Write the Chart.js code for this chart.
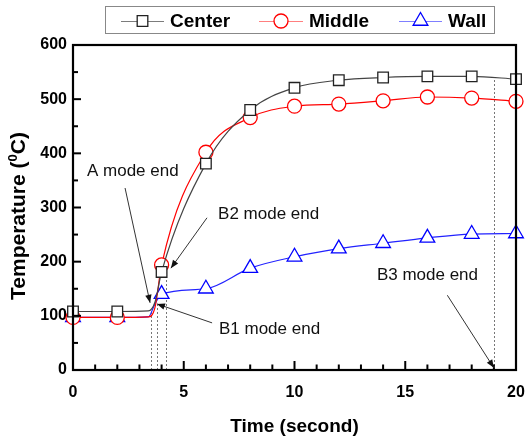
<!DOCTYPE html>
<html><head><meta charset="utf-8">
<script src="https://cdn.jsdelivr.net/npm/chart.js@4.4.1/dist/chart.umd.min.js"></script>
<style>html,body{margin:0;padding:0;background:#fff}#wrap{width:530px;height:440px;position:relative}</style>
</head><body><div id="wrap"><canvas id="c"></canvas></div>
<script>
// ---- data ----
const seriesNames = ['Center', 'Middle', 'Wall'];
const times       = [0, 2, 3.4, 3.7, 4, 6, 8, 10, 12, 14, 16, 18, 20];
const centerTemps = [108, 108, 109, 125, 181, 381, 480, 521, 535, 540, 542, 542, 537];
const middleTemps = [97, 97, 98, 115, 194, 402, 466, 487, 491, 497, 504, 502, 496];
const wallTemps   = [97, 97, 98, 122, 140, 150, 188, 209, 224, 234, 244, 251, 252];
const markerTimes = [0, 2, 4, 6, 8, 10, 12, 14, 16, 18, 20];
const xTickValues = [0, 5, 10, 15, 20];
const yTickValues = [0, 100, 200, 300, 400, 500, 600];
const modeEndTimes = [3.5, 3.8, 4.2, 19];
const modeEndTemps = [110, 120, 180, 541];
const annoLabels = ['A mode end', 'B2 mode end', 'B1 mode end', 'B3 mode end'];
const annoTextAt = [[0.63, 367], [6.55, 288], [6.59, 76], [13.72, 175]];
const annoArrowFrom = [[2.35, 336], [6.05, 281], [6.28, 87], [16.9, 138]];
const annoArrowTo   = [[3.48, 124], [4.42, 188], [3.79, 122], [19.0, 4]];

const FONT = "'Liberation Sans', Arial, sans-serif";
const styles = [
  {line: '#444444', mark: '#222222', shape: 'rect', r: 7.5, legendLine: 'rgba(68,68,68,0.7)'},
  {line: '#ff0000', mark: '#ff0000', shape: 'circle', r: 7, legendLine: 'rgba(255,0,0,0.5)'},
  {line: '#2222ff', mark: '#0000ff', shape: 'triangle', r: 8.5, legendLine: 'rgba(0,0,255,0.5)'}
];
const seriesValues = [centerTemps, middleTemps, wallTemps];

const datasets = seriesNames.map((name, i) => ({
  label: name,
  data: times.map((t, k) => ({x: t, y: seriesValues[i][k]})),
  borderColor: styles[i].line,
  borderWidth: 1.2,
  cubicInterpolationMode: 'monotone',
  pointStyle: styles[i].shape,
  pointBorderColor: styles[i].mark,
  pointBackgroundColor: '#ffffff',
  pointBorderWidth: 1.3,
  pointRadius: ctx => markerTimes.includes(ctx.raw.x) ? styles[i].r : 0,
  pointHoverRadius: ctx => markerTimes.includes(ctx.raw.x) ? styles[i].r : 0,
  clip: false
}));

function drawMarker(ctx, shape, x, y, r, color) {
  ctx.save();
  ctx.strokeStyle = color; ctx.fillStyle = '#fff'; ctx.lineWidth = 1.3;
  Chart.helpers.drawPoint(ctx, {pointStyle: shape, radius: r, rotation: 0, borderWidth: 1.3}, x, y);
  ctx.restore();
}

const deco = {
  id: 'deco',
  beforeDatasetsDraw(chart) {
    const {ctx, scales: {x, y}} = chart;
    ctx.save();
    ctx.strokeStyle = '#777'; ctx.lineWidth = 1; ctx.setLineDash([2, 2]);
    modeEndTimes.forEach((t, i) => {
      const px = Math.round(x.getPixelForValue(t)) + 0.5;
      ctx.beginPath();
      ctx.moveTo(px, y.getPixelForValue(0));
      ctx.lineTo(px, y.getPixelForValue(modeEndTemps[i]));
      ctx.stroke();
    });
    ctx.restore();
  },
  afterDraw(chart) {
    const {ctx, scales: {x, y}} = chart;
    const L = x.getPixelForValue(0), R = x.getPixelForValue(20);
    const T = y.getPixelForValue(600), B = y.getPixelForValue(0);
    ctx.save();
    // frame
    ctx.strokeStyle = '#000'; ctx.lineWidth = 2.2; ctx.setLineDash([]);
    ctx.strokeRect(L, T, R - L, B - T);
    // inward ticks
    ctx.lineWidth = 2;
    for (let t = 0; t <= 20; t++) {
      const px = x.getPixelForValue(t);
      const len = (t % 5 === 0) ? 9 : 5.5;
      ctx.beginPath(); ctx.moveTo(px, B); ctx.lineTo(px, B - len); ctx.stroke();
    }
    for (let v = 0; v <= 600; v += 50) {
      const py = y.getPixelForValue(v);
      const len = (v % 100 === 0) ? 8 : 5;
      ctx.beginPath(); ctx.moveTo(L, py); ctx.lineTo(L + len, py); ctx.stroke();
    }
    // annotations
    ctx.font = '17px ' + FONT; ctx.fillStyle = '#111'; ctx.textBaseline = 'middle'; ctx.textAlign = 'left';
    annoLabels.forEach((lab, i) => {
      ctx.fillText(lab, x.getPixelForValue(annoTextAt[i][0]), y.getPixelForValue(annoTextAt[i][1]));
    });
    ctx.strokeStyle = '#333'; ctx.fillStyle = '#111'; ctx.lineWidth = 1;
    annoArrowFrom.forEach((f, i) => {
      const x1 = x.getPixelForValue(f[0]), y1 = y.getPixelForValue(f[1]);
      const x2 = x.getPixelForValue(annoArrowTo[i][0]), y2 = y.getPixelForValue(annoArrowTo[i][1]);
      ctx.beginPath(); ctx.moveTo(x1, y1); ctx.lineTo(x2, y2); ctx.stroke();
      const ang = Math.atan2(y2 - y1, x2 - x1), AL = 8, W = 3.2;
      ctx.beginPath();
      ctx.moveTo(x2, y2);
      ctx.lineTo(x2 - AL * Math.cos(ang) + W * Math.sin(ang), y2 - AL * Math.sin(ang) - W * Math.cos(ang));
      ctx.lineTo(x2 - AL * Math.cos(ang) - W * Math.sin(ang), y2 - AL * Math.sin(ang) + W * Math.cos(ang));
      ctx.closePath(); ctx.fill();
    });
    // axis titles
    ctx.fillStyle = '#000';
    ctx.font = 'bold 19px ' + FONT; ctx.textAlign = 'center'; ctx.textBaseline = 'middle';
    ctx.fillText('Time (second)', (L + R) / 2, 427);
    ctx.save();
    ctx.translate(19, 216); ctx.rotate(-Math.PI / 2);
    const p1 = 'Temperature (', sup = '0', p2 = 'C)';
    ctx.font = 'bold 21px ' + FONT; const w1 = ctx.measureText(p1).width, w3 = ctx.measureText(p2).width;
    ctx.font = 'bold 13px ' + FONT; const w2 = ctx.measureText(sup).width;
    let sx = -(w1 + w2 + w3) / 2;
    ctx.textAlign = 'left';
    ctx.font = 'bold 21px ' + FONT; ctx.fillText(p1, sx, 0); sx += w1;
    ctx.font = 'bold 13px ' + FONT; ctx.fillText(sup, sx, -6); sx += w2;
    ctx.font = 'bold 21px ' + FONT; ctx.fillText(p2, sx, 0);
    ctx.restore();
    // legend
    const lx = 105, ly = 6, lw = 389, lh = 27;
    ctx.strokeStyle = '#888'; ctx.lineWidth = 1;
    ctx.strokeRect(lx + 0.5, ly + 0.5, lw, lh);
    const items = [{x0: 121, x1: 164, tx: 170}, {x0: 259, x1: 303, tx: 309}, {x0: 399, x1: 442, tx: 448}];
    const cy = 21;
    items.forEach((it, i) => {
      ctx.strokeStyle = styles[i].legendLine; ctx.lineWidth = 1.2;
      ctx.beginPath(); ctx.moveTo(it.x0, cy + 0.5); ctx.lineTo(it.x1, cy + 0.5); ctx.stroke();
      drawMarker(ctx, styles[i].shape, (it.x0 + it.x1) / 2, cy, styles[i].r, styles[i].mark);
      ctx.fillStyle = '#000'; ctx.font = 'bold 19px ' + FONT; ctx.textAlign = 'left'; ctx.textBaseline = 'middle';
      ctx.fillText(seriesNames[i], it.tx, cy + 1);
    });
    ctx.restore();
  }
};

new Chart(document.getElementById('c'), {
  type: 'line',
  data: {datasets},
  options: {
    responsive: true, maintainAspectRatio: false, animation: false,
    layout: {padding: {top: 45, right: 14, left: 0, bottom: 0}},
    plugins: {legend: {display: false}, tooltip: {enabled: false}},
    events: [],
    scales: {
      x: {
        type: 'linear', min: 0, max: 20,
        afterBuildTicks: s => { s.ticks = xTickValues.map(v => ({value: v})); },
        afterFit: s => { s.height = 70; s.paddingLeft = 0; s.paddingRight = 0; },
        grid: {display: false, drawTicks: false},
        border: {display: false},
        ticks: {font: {family: FONT, size: 16, weight: 'bold'}, color: '#000', padding: 13, maxRotation: 0}
      },
      y: {
        type: 'linear', min: 0, max: 600,
        afterBuildTicks: s => { s.ticks = yTickValues.map(v => ({value: v})); },
        afterFit: s => { s.width = 73; s.paddingTop = 0; s.paddingBottom = 0; },
        grid: {display: false, drawTicks: false},
        border: {display: false},
        ticks: {font: {family: FONT, size: 16, weight: 'bold'}, color: '#000', padding: 6}
      }
    }
  },
  plugins: [deco]
});
</script></body></html>
